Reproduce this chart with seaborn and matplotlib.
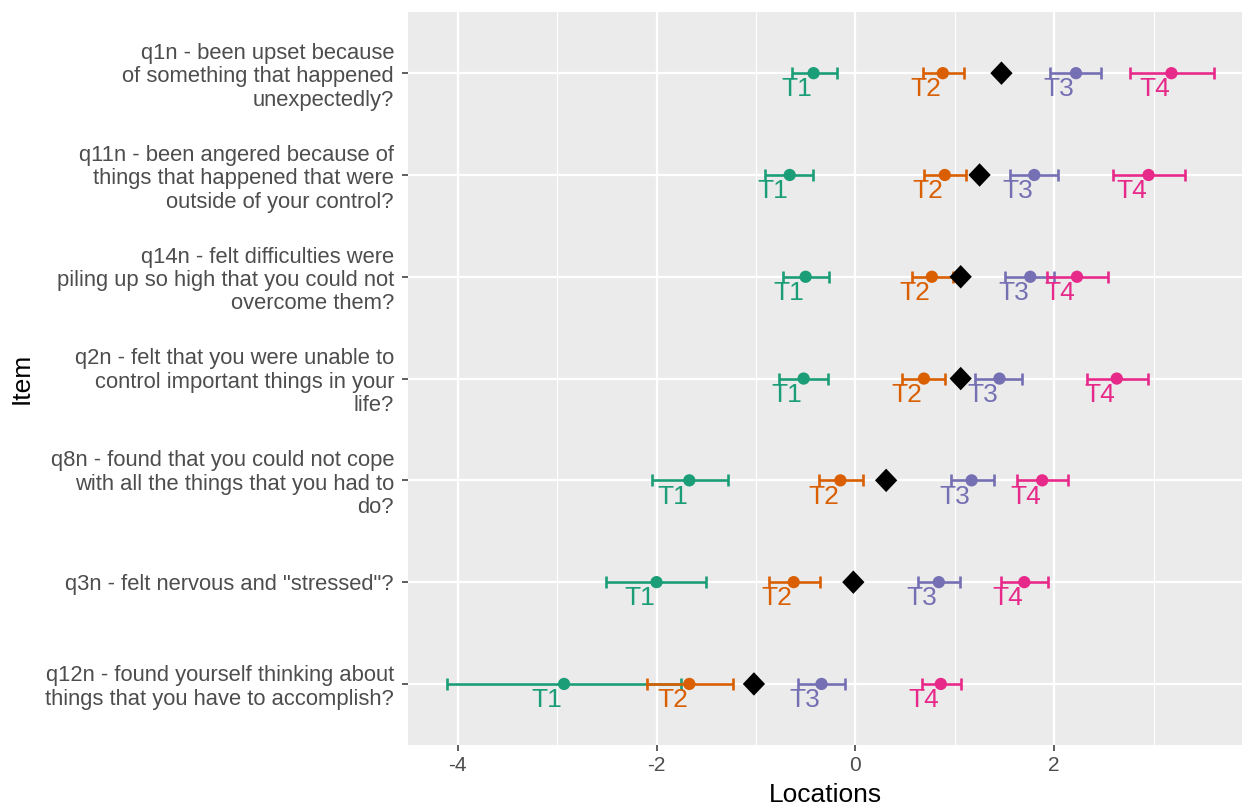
import numpy as np
import pandas as pd
import matplotlib
matplotlib.use("Agg")
import matplotlib.pyplot as plt
import seaborn as sns

items = [
    "q1n - been upset because\nof something that happened\nunexpectedly?",
    "q11n - been angered because of\nthings that happened that were\noutside of your control?",
    "q14n - felt difficulties were\npiling up so high that you could not\novercome them?",
    "q2n - felt that you were unable to\ncontrol important things in your\nlife?",
    "q8n - found that you could not cope\nwith all the things that you had to\ndo?",
    "q3n - felt nervous and \"stressed\"?",
    "q12n - found yourself thinking about\nthings that you have to accomplish?",
]
times = ["T1", "T2", "T3", "T4"]

loc_T1 = [-0.42, -0.66, -0.50, -0.52, -1.67, -2.00, -2.93]
lo_T1 = [-0.64, -0.91, -0.73, -0.77, -2.05, -2.51, -4.11]
hi_T1 = [-0.18, -0.43, -0.26, -0.27, -1.28, -1.50, -1.75]

loc_T2 = [0.88, 0.90, 0.77, 0.69, -0.15, -0.62, -1.67]
lo_T2 = [0.68, 0.69, 0.57, 0.47, -0.37, -0.87, -2.10]
hi_T2 = [1.09, 1.11, 0.98, 0.90, 0.08, -0.36, -1.23]

loc_T3 = [2.22, 1.80, 1.76, 1.45, 1.17, 0.84, -0.34]
lo_T3 = [1.96, 1.56, 1.51, 1.20, 0.96, 0.63, -0.58]
hi_T3 = [2.47, 2.04, 2.00, 1.68, 1.40, 1.05, -0.10]

loc_T4 = [3.18, 2.95, 2.23, 2.63, 1.88, 1.70, 0.86]
lo_T4 = [2.76, 2.59, 1.93, 2.33, 1.63, 1.47, 0.67]
hi_T4 = [3.61, 3.32, 2.54, 2.94, 2.14, 1.94, 1.06]

threshold = [1.47, 1.25, 1.06, 1.06, 0.31, -0.02, -1.02]

colors = ["#1B9E77", "#D95F02", "#7570B3", "#E7298A"]

locs = [loc_T1, loc_T2, loc_T3, loc_T4]
los = [lo_T1, lo_T2, lo_T3, lo_T4]
his = [hi_T1, hi_T2, hi_T3, hi_T4]

rows = []
for t, lc, lo, hi in zip(times, locs, los, his):
    for i, it in enumerate(items):
        rows.append({"Item": it, "pos": i, "Time": t, "loc": lc[i], "lo": lo[i], "hi": hi[i]})
df = pd.DataFrame(rows)
dth = pd.DataFrame({"Item": items, "pos": np.arange(len(items)), "thr": threshold})

sns.set_theme(style="darkgrid", rc={
    "axes.facecolor": "#EBEBEB",
    "grid.color": "white",
    "axes.edgecolor": "#EBEBEB",
})
plt.rcParams["font.family"] = ["Liberation Sans", "DejaVu Sans"]

fig = plt.figure(figsize=(12.42, 8.07), dpi=100)
ax = fig.add_axes([0.3285, 0.0768, 0.6715, 0.9082])

pal = dict(zip(times, colors))
for t in times:
    d = df[df["Time"] == t]
    ax.errorbar(d["loc"], d["pos"],
                xerr=[d["loc"] - d["lo"], d["hi"] - d["loc"]],
                fmt="none", ecolor=pal[t], elinewidth=1.9,
                capsize=4.0, capthick=1.9, zorder=3)

sns.scatterplot(data=df, x="loc", y="pos", hue="Time", palette=pal,
                s=78, edgecolor="none", legend=False, ax=ax, zorder=4)

diamond = [(0, 1), (0.95, 0), (0, -1), (-0.95, 0), (0, 1)]
sns.scatterplot(data=dth, x="thr", y="pos", color="black", marker=diamond,
                s=285, edgecolor="none", legend=False, ax=ax, zorder=5)

for _, r in df.iterrows():
    ax.text(r["loc"] - 0.17, r["pos"] + 0.16, r["Time"], color=pal[r["Time"]],
            ha="center", va="center", fontsize=19, zorder=6)

ax.set_xlim(-4.50, 3.89)
ax.set_ylim(len(items) - 0.4, -0.6)
ax.set_yticks(np.arange(len(items)))
ax.set_yticklabels(items, ha="right", linespacing=1.15)
ax.set_xticks([-4, -2, 0, 2])
ax.set_xticklabels(["-4", "-2", "0", "2"])
ax.set_xticks([-3, -1, 1, 3], minor=True)
ax.grid(which="major", color="white", linewidth=1.6)
ax.grid(which="minor", axis="x", color="white", linewidth=0.8)
for s in ax.spines.values():
    s.set_visible(False)
ax.tick_params(axis="both", which="major", length=4, width=1.1, color="#333333",
               labelcolor="#4D4D4D", direction="out")
ax.tick_params(axis="y", which="major", labelsize=15.8, pad=6, left=True)
ax.tick_params(axis="x", which="major", labelsize=15, pad=4, bottom=True)
ax.tick_params(axis="both", which="minor", length=0)
ax.set_xlabel("Locations", fontsize=19, color="black", labelpad=6)
ax.set_ylabel("Item", fontsize=19, color="black", labelpad=8)

fig.savefig("out.png", dpi=100)
